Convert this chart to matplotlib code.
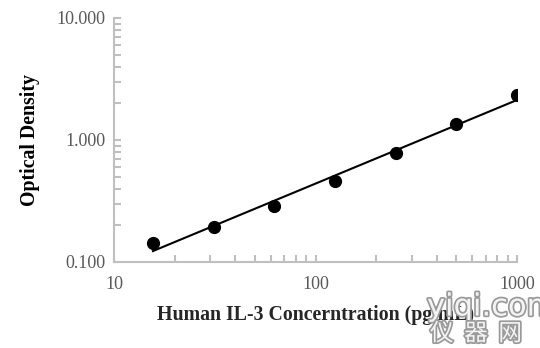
import numpy as np
import matplotlib
matplotlib.use("Agg")
import matplotlib.pyplot as plt
import matplotlib.patheffects as pe

conc = [15.6, 31.25, 62.5, 125, 250, 500, 1000]
od = [0.142, 0.194, 0.288, 0.463, 0.787, 1.35, 2.35]
x_ticks = [10, 100, 1000]
x_labels = ["10", "100", "1000"]
y_ticks = [0.1, 1, 10]
y_labels = ["0.100", "1.000", "10.000"]

plt.rcParams['font.family'] = ['Liberation Serif', 'DejaVu Serif']

fig = plt.figure(figsize=(5.4, 3.48), dpi=100)
ax = fig.add_axes([114/540, 1-262/348, (517-114)/540, (262-18)/348])
ax.set_xscale('log')
ax.set_yscale('log')
ax.set_xlim(10, 1000)
ax.set_ylim(0.1, 10)

# power trendline fitted to data
lx = np.log10(conc)
ly = np.log10(od)
b, a = np.polyfit(lx, ly, 1)
xf = np.array([conc[0], conc[-1]])
ax.plot(xf, 10**(a + b*np.log10(xf)), color='black', lw=1.5, zorder=2)
ax.plot(conc, od, 'o', color='black', ms=8.5, zorder=3)

for s in ['top', 'right']:
    ax.spines[s].set_visible(False)
for s in ['left', 'bottom']:
    ax.spines[s].set_color('#bfbfbf')
    ax.spines[s].set_linewidth(1.5)

ax.set_xticks(x_ticks)
ax.set_xticklabels(x_labels)
ax.set_yticks(y_ticks)
ax.set_yticklabels(y_labels)
ax.tick_params(which='both', direction='in', color='#bfbfbf', width=1.5,
               labelcolor='#595959', labelsize=13)
ax.tick_params(which='major', length=5)
ax.tick_params(which='minor', length=5)
ax.tick_params(axis='x', pad=10)
ax.tick_params(axis='y', pad=6)

ax.set_xlabel("Human IL-3 Concerntration (pg/mL)", fontsize=14.3, fontweight='bold',
              color='#262626', labelpad=9)
ax.set_ylabel("Optical Density", fontsize=14.3, fontweight='bold', color='black', labelpad=12)

wm = dict(color='#f4f4f4', path_effects=[pe.withStroke(linewidth=2.5, foreground='#9a9a9a')])
fig.text(427/540, 1-307/348, "yiqi.com", fontsize=22, ha='left', va='center',
         family=['DejaVu Sans'], **wm)
fig.text(430/540, 1-334/348, "仪  器  网", fontsize=17, ha='left', va='center',
         family=['Noto Sans CJK SC', 'DejaVu Sans'], **wm)

fig.savefig("out.png", dpi=100)
